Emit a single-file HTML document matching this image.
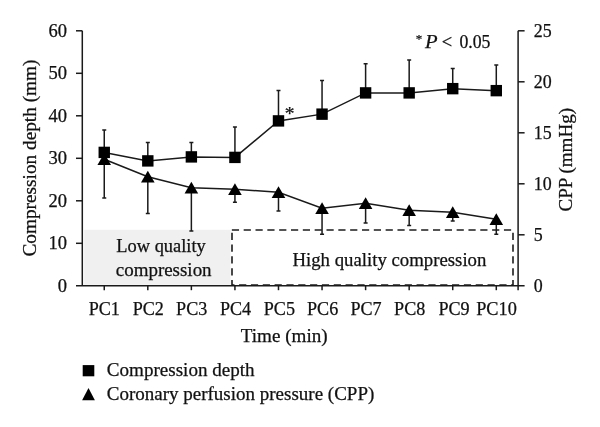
<!DOCTYPE html>
<html><head><meta charset="utf-8"><title>Figure</title>
<style>html,body{margin:0;padding:0;background:#fff}svg{display:block}text{font-family:"Liberation Serif",serif;font-size:18.6px;fill:#111;stroke:#111;stroke-width:0.25px}.d{font-size:18.2px}</style></head>
<body>
<svg width="600" height="427" viewBox="0 0 600 427">
<rect width="600" height="427" fill="#fff"/>
<rect x="84.2" y="229.8" width="146.3" height="55" fill="#f0f0f0"/>
<path d="M231.85,230 H513.6" fill="none" stroke="#1c1c1c" stroke-width="1.6" stroke-dasharray="7.2 4.63"/>
<path d="M232,232.7 V286 M513,232.7 V286" fill="none" stroke="#1c1c1c" stroke-width="1.6" stroke-dasharray="7.2 4.63"/>
<path d="M232,285 H513" fill="none" stroke="#1c1c1c" stroke-width="1.6" stroke-dasharray="7.2 4.63" stroke-dashoffset="4.73"/>
<path d="M82.3,30.8 V285.8 M76,285.8 H524.6 M518.1,30.8 V290.2" stroke="#1a1a1a" stroke-width="1.5" fill="none"/>
<text class="d" x="57.85" y="291.80" textLength="9.25" lengthAdjust="spacingAndGlyphs">0</text>
<path d="M76,243.30 H82.3" stroke="#1a1a1a" stroke-width="1.5" fill="none"/>
<text class="d" x="48.60" y="249.30" textLength="18.5" lengthAdjust="spacingAndGlyphs">10</text>
<path d="M76,200.80 H82.3" stroke="#1a1a1a" stroke-width="1.5" fill="none"/>
<text class="d" x="48.60" y="206.80" textLength="18.5" lengthAdjust="spacingAndGlyphs">20</text>
<path d="M76,158.30 H82.3" stroke="#1a1a1a" stroke-width="1.5" fill="none"/>
<text class="d" x="48.60" y="164.30" textLength="18.5" lengthAdjust="spacingAndGlyphs">30</text>
<path d="M76,115.80 H82.3" stroke="#1a1a1a" stroke-width="1.5" fill="none"/>
<text class="d" x="48.60" y="121.80" textLength="18.5" lengthAdjust="spacingAndGlyphs">40</text>
<path d="M76,73.30 H82.3" stroke="#1a1a1a" stroke-width="1.5" fill="none"/>
<text class="d" x="48.60" y="79.30" textLength="18.5" lengthAdjust="spacingAndGlyphs">50</text>
<path d="M76,30.80 H82.3" stroke="#1a1a1a" stroke-width="1.5" fill="none"/>
<text class="d" x="48.60" y="36.80" textLength="18.5" lengthAdjust="spacingAndGlyphs">60</text>
<text class="d" x="533.70" y="291.50" textLength="8.95" lengthAdjust="spacingAndGlyphs">0</text>
<path d="M518.1,234.80 H524.6" stroke="#1a1a1a" stroke-width="1.5" fill="none"/>
<text class="d" x="533.70" y="240.50" textLength="8.95" lengthAdjust="spacingAndGlyphs">5</text>
<path d="M518.1,183.80 H524.6" stroke="#1a1a1a" stroke-width="1.5" fill="none"/>
<text class="d" x="533.70" y="189.50" textLength="17.9" lengthAdjust="spacingAndGlyphs">10</text>
<path d="M518.1,132.80 H524.6" stroke="#1a1a1a" stroke-width="1.5" fill="none"/>
<text class="d" x="533.70" y="138.50" textLength="17.9" lengthAdjust="spacingAndGlyphs">15</text>
<path d="M518.1,81.80 H524.6" stroke="#1a1a1a" stroke-width="1.5" fill="none"/>
<text class="d" x="533.70" y="87.50" textLength="17.9" lengthAdjust="spacingAndGlyphs">20</text>
<path d="M518.1,30.80 H524.6" stroke="#1a1a1a" stroke-width="1.5" fill="none"/>
<text class="d" x="533.70" y="36.50" textLength="17.9" lengthAdjust="spacingAndGlyphs">25</text>
<path d="M104.25,285.8 V290.2" stroke="#1a1a1a" stroke-width="1.5" fill="none"/>
<text x="88.65" y="314.5" textLength="31.2" lengthAdjust="spacingAndGlyphs">PC1</text>
<path d="M147.81,285.8 V290.2" stroke="#1a1a1a" stroke-width="1.5" fill="none"/>
<text x="132.71" y="314.5" textLength="31.2" lengthAdjust="spacingAndGlyphs">PC2</text>
<path d="M191.37,285.8 V290.2" stroke="#1a1a1a" stroke-width="1.5" fill="none"/>
<text x="176.07" y="314.5" textLength="31.2" lengthAdjust="spacingAndGlyphs">PC3</text>
<path d="M234.93,285.8 V290.2" stroke="#1a1a1a" stroke-width="1.5" fill="none"/>
<text x="219.93" y="314.5" textLength="31.2" lengthAdjust="spacingAndGlyphs">PC4</text>
<path d="M278.49,285.8 V290.2" stroke="#1a1a1a" stroke-width="1.5" fill="none"/>
<text x="263.79" y="314.5" textLength="31.2" lengthAdjust="spacingAndGlyphs">PC5</text>
<path d="M322.05,285.8 V290.2" stroke="#1a1a1a" stroke-width="1.5" fill="none"/>
<text x="307.05" y="314.5" textLength="31.2" lengthAdjust="spacingAndGlyphs">PC6</text>
<path d="M365.61,285.8 V290.2" stroke="#1a1a1a" stroke-width="1.5" fill="none"/>
<text x="350.41" y="314.5" textLength="31.2" lengthAdjust="spacingAndGlyphs">PC7</text>
<path d="M409.17,285.8 V290.2" stroke="#1a1a1a" stroke-width="1.5" fill="none"/>
<text x="394.07" y="314.5" textLength="31.2" lengthAdjust="spacingAndGlyphs">PC8</text>
<path d="M452.73,285.8 V290.2" stroke="#1a1a1a" stroke-width="1.5" fill="none"/>
<text x="438.43" y="314.5" textLength="31.2" lengthAdjust="spacingAndGlyphs">PC9</text>
<path d="M496.29,285.8 V290.2" stroke="#1a1a1a" stroke-width="1.5" fill="none"/>
<text x="476.19" y="314.5" textLength="40.6" lengthAdjust="spacingAndGlyphs">PC10</text>
<path d="M104.25,152.40 V130.00 M102.25,130.00 H106.25" stroke="#1a1a1a" stroke-width="1.5" fill="none"/>
<path d="M147.81,160.90 V142.50 M145.81,142.50 H149.81" stroke="#1a1a1a" stroke-width="1.5" fill="none"/>
<path d="M191.37,156.90 V142.50 M189.37,142.50 H193.37" stroke="#1a1a1a" stroke-width="1.5" fill="none"/>
<path d="M234.93,157.40 V127.00 M232.93,127.00 H236.93" stroke="#1a1a1a" stroke-width="1.5" fill="none"/>
<path d="M278.49,120.90 V90.50 M276.49,90.50 H280.49" stroke="#1a1a1a" stroke-width="1.5" fill="none"/>
<path d="M322.05,114.15 V80.50 M320.05,80.50 H324.05" stroke="#1a1a1a" stroke-width="1.5" fill="none"/>
<path d="M365.61,92.90 V63.75 M363.61,63.75 H367.61" stroke="#1a1a1a" stroke-width="1.5" fill="none"/>
<path d="M409.17,92.90 V60.00 M407.17,60.00 H411.17" stroke="#1a1a1a" stroke-width="1.5" fill="none"/>
<path d="M452.73,88.65 V68.50 M450.73,68.50 H454.73" stroke="#1a1a1a" stroke-width="1.5" fill="none"/>
<path d="M496.29,90.65 V65.00 M494.29,65.00 H498.29" stroke="#1a1a1a" stroke-width="1.5" fill="none"/>
<path d="M104.25,159.30 V198.00 M102.25,198.00 H106.25" stroke="#1a1a1a" stroke-width="1.5" fill="none"/>
<path d="M147.81,176.80 V213.50 M145.81,213.50 H149.81" stroke="#1a1a1a" stroke-width="1.5" fill="none"/>
<path d="M191.37,187.80 V231.00 M189.37,231.00 H193.37" stroke="#1a1a1a" stroke-width="1.5" fill="none"/>
<path d="M234.93,189.30 V202.25 M232.93,202.25 H236.93" stroke="#1a1a1a" stroke-width="1.5" fill="none"/>
<path d="M278.49,192.30 V211.00 M276.49,211.00 H280.49" stroke="#1a1a1a" stroke-width="1.5" fill="none"/>
<path d="M322.05,208.30 V234.25 M320.05,234.25 H324.05" stroke="#1a1a1a" stroke-width="1.5" fill="none"/>
<path d="M365.61,203.30 V223.00 M363.61,223.00 H367.61" stroke="#1a1a1a" stroke-width="1.5" fill="none"/>
<path d="M409.17,210.30 V225.50 M407.17,225.50 H411.17" stroke="#1a1a1a" stroke-width="1.5" fill="none"/>
<path d="M452.73,212.30 V221.00 M450.73,221.00 H454.73" stroke="#1a1a1a" stroke-width="1.5" fill="none"/>
<path d="M496.29,219.30 V234.25 M494.29,234.25 H498.29" stroke="#1a1a1a" stroke-width="1.5" fill="none"/>
<polyline points="104.25,152.40 147.81,160.90 191.37,156.90 234.93,157.40 278.49,120.90 322.05,114.15 365.61,92.90 409.17,92.90 452.73,88.65 496.29,90.65" stroke="#1a1a1a" stroke-width="1.5" fill="none"/>
<polyline points="104.25,159.30 147.81,176.80 191.37,187.80 234.93,189.30 278.49,192.30 322.05,208.30 365.61,203.30 409.17,210.30 452.73,212.30 496.29,219.30" stroke="#1a1a1a" stroke-width="1.5" fill="none"/>
<path d="M104.25,153.20 L111.05,165.10 L97.45,165.10 Z" fill="#000"/>
<path d="M147.81,170.70 L154.61,182.60 L141.01,182.60 Z" fill="#000"/>
<path d="M191.37,181.70 L198.17,193.60 L184.57,193.60 Z" fill="#000"/>
<path d="M234.93,183.20 L241.73,195.10 L228.13,195.10 Z" fill="#000"/>
<path d="M278.49,186.20 L285.29,198.10 L271.69,198.10 Z" fill="#000"/>
<path d="M322.05,202.20 L328.85,214.10 L315.25,214.10 Z" fill="#000"/>
<path d="M365.61,197.20 L372.41,209.10 L358.81,209.10 Z" fill="#000"/>
<path d="M409.17,204.20 L415.97,216.10 L402.37,216.10 Z" fill="#000"/>
<path d="M452.73,206.20 L459.53,218.10 L445.93,218.10 Z" fill="#000"/>
<path d="M496.29,213.20 L503.09,225.10 L489.49,225.10 Z" fill="#000"/>
<rect x="98.55" y="146.70" width="11.4" height="11.4" fill="#000"/>
<rect x="142.11" y="155.20" width="11.4" height="11.4" fill="#000"/>
<rect x="185.67" y="151.20" width="11.4" height="11.4" fill="#000"/>
<rect x="229.23" y="151.70" width="11.4" height="11.4" fill="#000"/>
<rect x="272.79" y="115.20" width="11.4" height="11.4" fill="#000"/>
<rect x="316.35" y="108.45" width="11.4" height="11.4" fill="#000"/>
<rect x="359.91" y="87.20" width="11.4" height="11.4" fill="#000"/>
<rect x="403.47" y="87.20" width="11.4" height="11.4" fill="#000"/>
<rect x="447.03" y="82.95" width="11.4" height="11.4" fill="#000"/>
<rect x="490.59" y="84.95" width="11.4" height="11.4" fill="#000"/>
<text x="284.7" y="120.2" style="font-size:19.5px">*</text>
<text x="415.8" y="43" style="font-size:13px">*</text>
<text x="425.0" y="47.5" textLength="12.6" lengthAdjust="spacingAndGlyphs" font-style="italic">P</text>
<text x="441.8" y="47.5" textLength="10.4" lengthAdjust="spacingAndGlyphs">&lt;</text>
<text x="459.4" y="47.5" textLength="31.0" lengthAdjust="spacingAndGlyphs" class="d">0.05</text>
<text x="116.3" y="252" textLength="89.5" lengthAdjust="spacingAndGlyphs">Low quality</text>
<text x="115.8" y="276" textLength="95.8" lengthAdjust="spacingAndGlyphs">compression</text>
<text x="292.4" y="266.2" textLength="194" lengthAdjust="spacingAndGlyphs">High quality compression</text>
<text x="240.8" y="342" textLength="86.8" lengthAdjust="spacingAndGlyphs">Time (min)</text>
<text transform="translate(35.8,256.5) rotate(-90)" textLength="197" lengthAdjust="spacingAndGlyphs">Compression depth (mm)</text>
<text transform="translate(572.4,211.4) rotate(-90)" textLength="103.4" lengthAdjust="spacingAndGlyphs">CPP (mmHg)</text>
<rect x="82.7" y="365.1" width="11.6" height="11.2" fill="#000"/>
<path d="M88.5,388 L94.9,400.3 L82.1,400.3 Z" fill="#000"/>
<text x="106.8" y="375.5" textLength="147.8" lengthAdjust="spacingAndGlyphs">Compression depth</text>
<text x="106.8" y="400" textLength="267.5" lengthAdjust="spacingAndGlyphs">Coronary perfusion pressure (CPP)</text>
</svg></body></html>
